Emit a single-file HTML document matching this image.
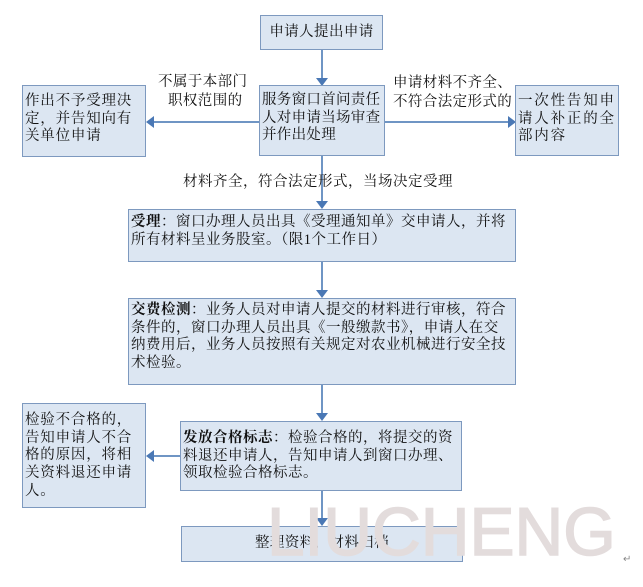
<!DOCTYPE html>
<html><head><meta charset="utf-8"><style>
body{margin:0;width:643px;height:587px;background:#fff;position:relative;overflow:hidden;font-family:"Liberation Serif","Noto Serif CJK SC","Noto Sans CJK SC",serif;color:#111;}
.b{position:absolute;box-sizing:border-box;background:#dce6f2;border:1.5px solid #7d99bf;font-size:14.5px;line-height:17.7px;padding:0 2px;white-space:nowrap;overflow:hidden;letter-spacing:0.4px;}
.t{position:absolute;font-size:14.5px;line-height:18px;white-space:nowrap;letter-spacing:0.4px;}
b{font-weight:bold;}
</style></head><body>
<svg width="643" height="587" style="position:absolute;left:0;top:0">
<g stroke="#6f95c4" stroke-width="2" fill="none">
<line x1="322" y1="50" x2="322" y2="80"/>
<line x1="322" y1="156" x2="322" y2="203"/>
<line x1="322" y1="262" x2="322" y2="292"/>
<line x1="322" y1="385" x2="322" y2="415"/>
<line x1="322" y1="491" x2="322" y2="520"/>
<line x1="259" y1="122" x2="152" y2="122"/>
<line x1="385" y1="122" x2="510" y2="122"/>
<line x1="180" y1="456" x2="152" y2="456"/>
</g>
<g fill="#4a78b5">
<polygon points="316,78 328,78 322,86"/>
<polygon points="316,201 328,201 322,209"/>
<polygon points="316,290 328,290 322,298"/>
<polygon points="316,413 328,413 322,421"/>
<polygon points="316,518 328,518 322,526"/>
<polygon points="146,122 154,116 154,128"/>
<polygon points="516,122 508,116 508,128"/>
<polygon points="146,456 154,450 154,462"/>
</g>
</svg>
<div class="b" style="left:260px;top:15px;width:123px;height:35px;line-height:33px;text-align:center;padding:0">申请人提出申请</div>
<div class="b" style="left:259px;top:85px;width:126px;height:71px;padding-top:6px;letter-spacing:0.3px">服务窗口首问责任<br>人对申请当场审查<br>并作出处理</div>
<div class="b" style="left:22px;top:85px;width:124px;height:72px;padding-top:7px;letter-spacing:0.8px">作出不予受理决<br>定，并告知向有<br>关单位申请</div>
<div class="b" style="left:515px;top:85px;width:104px;height:71px;padding-top:7px;letter-spacing:1.8px">一次性告知申<br>请人补正的全<br>部内容</div>
<div class="t" style="left:158px;top:73px">不属于本部门</div>
<div class="t" style="left:168px;top:92px">职权范围的</div>
<div class="t" style="left:393px;top:74px">申请材料不齐全、</div>
<div class="t" style="left:393px;top:93px">不符合法定形式的</div>
<div class="t" style="left:183px;top:173px;letter-spacing:0.5px">材料齐全，符合法定形式，当场决定受理</div>
<div class="b" style="left:128px;top:209px;width:388px;height:53px;padding-top:4px;letter-spacing:0.5px"><b>受理</b>：窗口办理人员出具《受理通知单》交申请人，并将<br>所有材料呈业务股室。（限1个工作日）</div>
<div class="b" style="left:128px;top:298px;width:388px;height:87px;padding-top:3px;letter-spacing:0.5px"><b>交费检测</b>：业务人员对申请人提交的材料进行审核，符合<br>条件的，窗口办理人员出具《一般缴款书》，申请人在交<br>纳费用后，业务人员按照有关规定对农业机械进行安全技<br>术检验。</div>
<div class="b" style="left:22px;top:403px;width:124px;height:105px;padding-top:8px;letter-spacing:0.8px">检验不合格的，<br>告知申请人不合<br>格的原因，将相<br>关资料退还申请<br>人。</div>
<div class="b" style="left:180px;top:421px;width:282px;height:70px;padding-top:8px;letter-spacing:0.5px"><b>发放合格标志</b>：检验合格的，将提交的资<br>料退还申请人，告知申请人到窗口办理、<br>领取检验合格标志。</div>
<div class="b" style="left:181px;top:526px;width:282px;height:36px;line-height:33px;text-align:center">整理资料，材料归档</div>
<div style="position:absolute;left:267px;top:494px;font-family:'Liberation Sans',sans-serif;font-size:67.5px;line-height:78px;color:#e3dcdc;white-space:nowrap;-webkit-text-stroke:1.5px #e3dcdc">LIUCHENG</div>
<div style="position:absolute;left:623px;top:554px;font-size:10px;color:#888">↵</div>
</body></html>
